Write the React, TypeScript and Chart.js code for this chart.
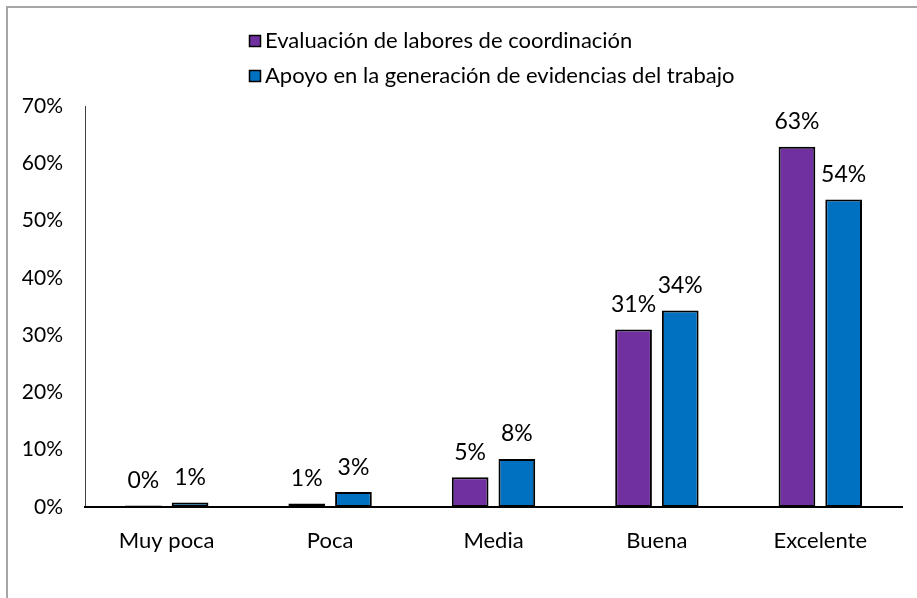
import React, { useEffect, useRef } from "react";
import { Chart, registerables } from "chart.js";

Chart.register(...registerables);

const categories = ["Muy poca", "Poca", "Media", "Buena", "Excelente"];
const seriesNames = [
  "Evaluación de labores de coordinación",
  "Apoyo en la generación de evidencias del trabajo",
];
const evaluacion = [0.25, 0.6, 5.2, 31.0, 62.9];
const apoyo = [0.8, 2.6, 8.4, 34.3, 53.7];
const seriesColors = ["#7030A0", "#0070C0"];
const yMin = 0;
const yMax = 70;
const yStep = 10;

const FONT = "Lato, 'Open Sans', sans-serif";

const framePlugin = {
  id: "frame",
  beforeDraw(chart: any) {
    const ctx = chart.ctx;
    ctx.save();
    ctx.fillStyle = "#ffffff";
    ctx.fillRect(0, 0, chart.width, chart.height);
    ctx.strokeStyle = "#a6a6a6";
    ctx.lineWidth = 2;
    ctx.strokeRect(7, 7, chart.width + 20, chart.height + 20);
    ctx.restore();
  },
};

const legendPlugin = {
  id: "vlegend",
  afterDraw(chart: any) {
    const ctx = chart.ctx;
    ctx.save();
    ctx.font = `22px ${FONT}`;
    ctx.textBaseline = "middle";
    ctx.textAlign = "left";
    const rows = [41, 76];
    chart.data.datasets.forEach((ds: any, i: number) => {
      const cy = rows[i];
      ctx.fillStyle = ds.backgroundColor;
      ctx.fillRect(249, cy - 6, 12, 12);
      ctx.strokeStyle = "#000";
      ctx.lineWidth = 1.5;
      ctx.strokeRect(249.5, cy - 5.5, 11, 11);
      ctx.fillStyle = "#000";
      ctx.fillText(ds.label, 265, cy);
    });
    ctx.restore();
  },
};

const labelPlugin = {
  id: "barlabels",
  afterDatasetsDraw(chart: any) {
    const ctx = chart.ctx;
    ctx.save();
    ctx.font = `23px ${FONT}`;
    ctx.fillStyle = "#000";
    ctx.textAlign = "center";
    ctx.textBaseline = "middle";
    chart.data.datasets.forEach((ds: any, i: number) => {
      const meta = chart.getDatasetMeta(i);
      meta.data.forEach((bar: any, j: number) => {
        const v = ds.data[j] as number;
        ctx.fillText(Math.round(v) + "%", bar.x, bar.y - 25);
      });
    });
    ctx.restore();
  },
};

export default function App() {
  const ref = useRef<HTMLCanvasElement | null>(null);

  useEffect(() => {
    document.body.style.margin = "0";
    const canvas = ref.current;
    if (!canvas) return;
    const chart = new Chart(canvas, {
      type: "bar",
      data: {
        labels: categories,
        datasets: [
          {
            label: seriesNames[0],
            data: evaluacion,
            backgroundColor: seriesColors[0],
            borderColor: "#000",
            borderWidth: 2,
            borderSkipped: false,
          },
          {
            label: seriesNames[1],
            data: apoyo,
            backgroundColor: seriesColors[1],
            borderColor: "#000",
            borderWidth: 2,
            borderSkipped: false,
          },
        ],
      },
      options: {
        responsive: false,
        animation: false,
        categoryPercentage: 0.5716,
        barPercentage: 0.786,
        layout: { padding: { top: 106, right: 15, bottom: 0, left: 0 } },
        plugins: {
          legend: { display: false },
          tooltip: { enabled: false },
        },
        scales: {
          x: {
            grid: { display: false },
            border: { display: true, color: "#000", width: 2, z: 1 },
            ticks: { color: "#000", font: { family: FONT, size: 22 }, padding: 13 },
            afterFit: (s: any) => {
              s.height = 91;
            },
          },
          y: {
            min: yMin,
            max: yMax,
            grid: { display: false, drawTicks: false },
            border: { display: true, color: "#404040", width: 1 },
            ticks: {
              stepSize: yStep,
              color: "#000",
              font: { family: FONT, size: 21 },
              padding: 22,
              callback: (v: any) => v + "%",
            },
            afterFit: (s: any) => {
              s.width = 85;
            },
          },
        },
      },
      plugins: [framePlugin, legendPlugin, labelPlugin],
    });
    return () => chart.destroy();
  }, []);

  return <canvas ref={ref} width={917} height={598} style={{ display: "block" }} />;
}
